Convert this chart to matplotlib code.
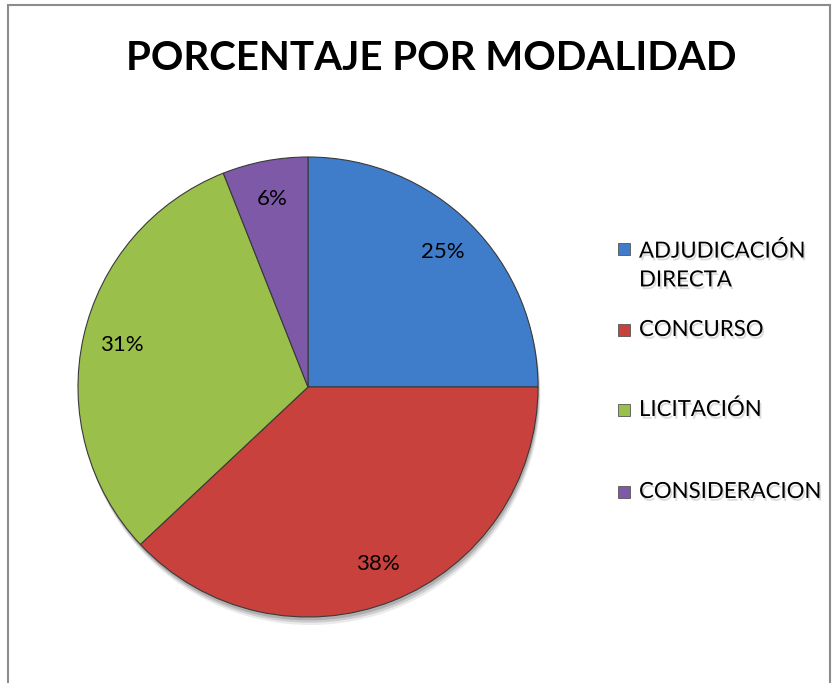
import matplotlib.pyplot as plt
import matplotlib.patheffects as pe
from matplotlib.patches import Rectangle, Circle

# data
categorias = ["ADJUDICACIÓN\nDIRECTA", "CONCURSO", "LICITACIÓN", "CONSIDERACION"]
porcentajes = [25, 38, 31, 6]
colores = ["#3F7DCB", "#C8413D", "#9BBF4B", "#7D59A8"]
titulo = "PORCENTAJE POR MODALIDAD"

W, H = 835, 683
fig = plt.figure(figsize=(W / 100, H / 100), dpi=100)
plt.rcParams['font.family'] = ['Lato', 'DejaVu Sans']

# frame around the chart area
fig.patches.append(Rectangle((8 / W, -0.01), (830 - 8) / W, 1.01 - 5 / H,
                             transform=fig.transFigure, fill=False,
                             edgecolor="#8c8c8c", linewidth=1.5))

# pie axes, centre (308, 387) px, radius 230 px
cx, cy, r = 308, 387, 230
ax = fig.add_axes([(cx - r) / W, (H - cy - r) / H, 2 * r / W, 2 * r / H])
# soft shadow under the whole pie
for k, a in [(0.035, 0.08), (0.025, 0.12), (0.015, 0.15)]:
    ax.add_patch(Circle((k * 0.3, -k), 1.0, facecolor="black", alpha=a,
                        edgecolor="none", clip_on=False, zorder=0))
wedges, textos, autotextos = ax.pie(
    porcentajes, colors=colores, startangle=90, counterclock=False,
    autopct=lambda p: "%d%%" % round(p), pctdistance=0.83,
    wedgeprops=dict(edgecolor="#3a3a3a", linewidth=0.8, zorder=2),
    textprops=dict(fontsize=16, color="black"))
for t in autotextos:
    t.set_zorder(3)
ax.set_xlim(-1, 1)
ax.set_ylim(-1, 1)
ax.set_aspect("equal")
ax.axis("off")

fig.text(431 / W, 1 - 58 / H, titulo, ha="center", va="center",
         fontsize=29, fontweight="bold")

# legend drawn by hand to match the uneven spacing
ys = [266, 330, 410, 492]
sombra = [pe.SimplePatchShadow(offset=(1.2, -2.0), shadow_rgbFace="#999999", alpha=0.35), pe.Normal()]
for cat, col, y in zip(categorias, colores, ys):
    ytop = 249 if "\n" in cat else y
    fig.patches.append(Rectangle((618 / W, 1 - (ytop + 6) / H), 12 / W, 12 / H,
                                 transform=fig.transFigure, facecolor=col,
                                 edgecolor="#555555", linewidth=0.6))
    fig.text(639 / W, 1 - y / H, cat, ha="left", va="center", fontsize=16,
             linespacing=1.55, path_effects=sombra)

fig.savefig("out.png", dpi=100)
